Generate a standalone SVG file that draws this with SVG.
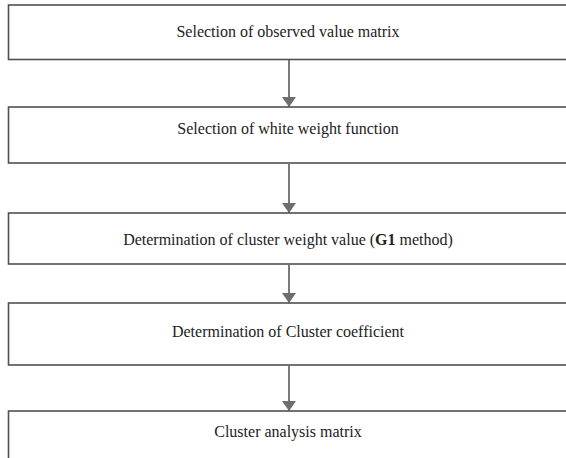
<svg xmlns="http://www.w3.org/2000/svg" width="566" height="458" viewBox="0 0 566 458">
<style>
.box{fill:#fff;stroke:#505050;stroke-width:1.6}
.lbl{font-family:"Liberation Serif","Times New Roman",serif;font-size:16px;fill:#222;text-anchor:middle}
.conn{stroke:#7a7a7a;stroke-width:2;fill:none}
</style>
<defs>
<marker id="ah" viewBox="0 0 10 14" refX="10" refY="7" markerWidth="10" markerHeight="14" markerUnits="userSpaceOnUse" orient="auto">
<path d="M0,0 L10,7 L0,14 Z" fill="#6e6e6e"/>
</marker>
</defs>
<rect width="566" height="458" fill="#fff"/>
<g id="connectors">
<line class="conn" x1="289" y1="60" x2="289" y2="107" marker-end="url(#ah)"/>
<line class="conn" x1="289" y1="164" x2="289" y2="213" marker-end="url(#ah)"/>
<line class="conn" x1="289" y1="265" x2="289" y2="303" marker-end="url(#ah)"/>
<line class="conn" x1="289" y1="366" x2="289" y2="411" marker-end="url(#ah)"/>
</g>
<g id="n1"><rect class="box" x="8.5" y="5" width="570" height="54.5"/><text class="lbl" x="288" y="37">Selection of observed value matrix</text></g>
<g id="n2"><rect class="box" x="8.5" y="107" width="570" height="56"/><text class="lbl" x="288" y="134">Selection of white weight function</text></g>
<g id="n3"><rect class="box" x="8.5" y="213" width="570" height="51"/><text class="lbl" x="288" y="245">Determination of cluster weight value (<tspan font-weight="bold">G1</tspan> method)</text></g>
<g id="n4"><rect class="box" x="8.5" y="303" width="570" height="62"/><text class="lbl" x="288" y="337">Determination of Cluster coefficient</text></g>
<g id="n5"><rect class="box" x="8.5" y="411" width="570" height="60"/><text class="lbl" x="288" y="437">Cluster analysis matrix</text></g>
</svg>
